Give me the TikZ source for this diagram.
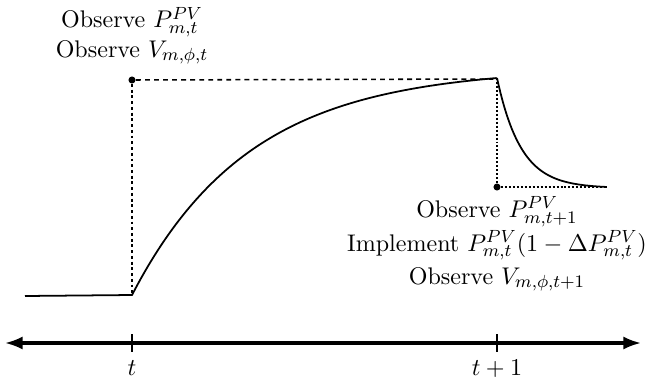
\documentclass[tikz,border=0pt]{standalone}
\usetikzlibrary{arrows.meta}
\begin{document}
\begin{tikzpicture}[x=0.4535pt,y=-0.4535pt,
  curve/.style={line width=0.8pt},
  guide/.style={line width=0.6pt,dash pattern=on 1.3pt off 1.3pt},
  guidefine/.style={line width=0.55pt,dash pattern=on 0.9pt off 0.9pt},
  guidetop/.style={line width=0.7pt,dash pattern=on 2.2pt off 1.9pt},
  axis/.style={line width=1.4pt,{Latex[length=8pt,width=6pt]}-{Latex[length=8pt,width=6pt]}},
  tick/.style={line width=0.5pt},
  lbl/.style={anchor=base,inner sep=0pt,font=\fontsize{10.9}{13}\selectfont},
  dot/.style={circle,fill=black,inner sep=0pt,minimum size=3.2pt}]
\useasboundingbox (0,0) rectangle (648,387);
% axis
\coordinate (axL) at (5,343);
\coordinate (axR) at (641,343);
\draw[axis] (axL) -- (axR);
\draw[tick] (132,334) -- (132,352);
\draw[tick] (497,334) -- (497,352);
\node[lbl] (tl) at (132,375) {$t$};
\node[lbl] (tl1) at (497,375) {$t+1$};
% curve
\coordinate (c0) at (25,296);
\coordinate (c1) at (132,295);
\coordinate (c2) at (497,78);
\draw[curve] (c0) -- (c1)
  -- plot[domain=0:1,samples=80,smooth] ({132+365*\x},{295-217*(1-exp(-3.1*\x))/(1-exp(-3.1))});
\draw[curve] plot[domain=0:1,samples=60,smooth] ({497+110*\x},{78+109*(1-exp(-4.6*\x))/(1-exp(-4.6))});
% guides
\node[dot] (d1) at (132,80) {};
\node[dot] (d2) at (497,187) {};
\coordinate (g1) at (497,79);
\coordinate (g2) at (607,187);
\draw[guidetop] (d1) -- (g1);
\draw[guide] (d1) -- (c1);
\draw[guidefine] (c2) -- (d2);
\draw[guidefine] (d2) -- (g2);
% labels
\node[lbl] (o1) at (132,28) {Observe $P^{PV}_{m,t}$};
\node[lbl] (o2) at (132,57) {Observe $V_{m,\phi,t}$};
\node[lbl] (o3) at (497,217) {Observe $P^{PV}_{m,t+1}$};
\node[lbl] (o4) at (497,251) {Implement $P^{PV}_{m,t}(1-\Delta P^{PV}_{m,t})$};
\node[lbl] (o5) at (497,284) {Observe $V_{m,\phi,t+1}$};
\end{tikzpicture}
\end{document}
